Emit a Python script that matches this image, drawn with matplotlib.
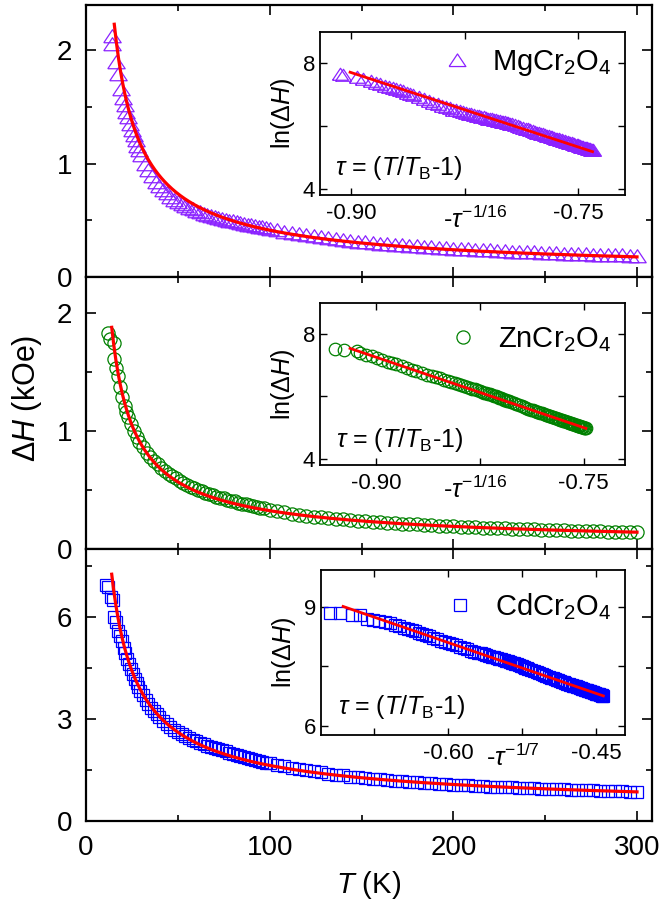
import numpy as np
import matplotlib
matplotlib.use('Agg')
import matplotlib.pyplot as plt
from matplotlib.ticker import MultipleLocator, FormatStrFormatter

plt.rcParams['font.family'] = ['Liberation Sans', 'DejaVu Sans']
plt.rcParams['mathtext.fontset'] = 'custom'
plt.rcParams['mathtext.rm'] = 'Liberation Sans'
plt.rcParams['mathtext.it'] = 'Liberation Sans:italic'
plt.rcParams['mathtext.bf'] = 'Liberation Sans:bold'
plt.rcParams['axes.unicode_minus'] = False

# ---------------- data (T in K, dH in kOe) ----------------
T_high = [100, 104, 108, 112, 116, 120, 124, 128, 132, 136, 140, 144, 148, 152,
          156, 160, 164, 168, 172, 176, 180, 184, 188, 192, 196, 200, 204, 208,
          212, 216, 220, 224, 228, 232, 236, 240, 244, 248, 252, 256, 260, 264,
          268, 272, 276, 280, 284, 288, 292, 296, 300]

mg_T_low = [14.0, 14.3, 16.5, 17.5, 19, 20, 21, 22, 23, 24, 25, 26, 27, 28, 29,
            30, 32, 34, 36, 38, 40, 42, 44, 46, 48,
            50, 52, 54, 56, 58, 60, 62, 64, 66, 68, 70, 72, 74, 76, 78, 80, 82,
            84, 86, 88, 90, 92, 94, 96, 98]
mg_dH_low = [2.13, 2.06, 1.90, 1.79, 1.66, 1.58, 1.52, 1.46, 1.41, 1.35, 1.30,
             1.25, 1.21, 1.16, 1.12, 1.08, 1.00, 0.94, 0.89, 0.84, 0.80, 0.77,
             0.74, 0.71, 0.68,
             0.660, 0.640, 0.623, 0.610, 0.597, 0.583, 0.570, 0.560, 0.550,
             0.540, 0.530, 0.520, 0.510, 0.503, 0.497, 0.490, 0.482, 0.475,
             0.468, 0.460, 0.455, 0.450, 0.445, 0.440, 0.432]
mg_dH_high = [0.425, 0.413, 0.401, 0.389, 0.378, 0.370, 0.360, 0.351, 0.343,
              0.335, 0.327, 0.320, 0.313, 0.307, 0.301, 0.295, 0.289, 0.284,
              0.280, 0.275, 0.270, 0.266, 0.262, 0.258, 0.254, 0.251, 0.247,
              0.244, 0.240, 0.237, 0.234, 0.231, 0.228, 0.224, 0.221, 0.219,
              0.217, 0.214, 0.212, 0.209, 0.207, 0.205, 0.202, 0.200, 0.198,
              0.196, 0.194, 0.192, 0.190, 0.189, 0.187]

zn_T_low = [12.1, 13.2, 15.0, 15.5, 16.5, 17.5, 18.5, 19.5, 21, 22, 23, 24.5,
            26, 27.5, 29, 31, 33, 35, 37, 39, 41, 43, 45, 47, 49,
            51, 53, 55, 57, 59, 61, 63, 65, 67, 69, 71, 73, 75, 77, 79, 81, 83,
            85, 87, 89, 91, 93, 95, 97]
zn_dH_low = [1.83, 1.78, 1.74, 1.61, 1.53, 1.46, 1.37, 1.29, 1.21, 1.16, 1.12,
             1.06, 1.00, 0.95, 0.91, 0.86, 0.81, 0.78, 0.75, 0.72, 0.69, 0.66,
             0.64, 0.62, 0.60,
             0.580, 0.560, 0.543, 0.530, 0.517, 0.503, 0.490, 0.477, 0.465,
             0.455, 0.445, 0.437, 0.430, 0.420, 0.412, 0.405, 0.395, 0.386,
             0.379, 0.371, 0.364, 0.358, 0.353, 0.346]
zn_dH_high = [0.335, 0.323, 0.311, 0.301, 0.293, 0.285, 0.277, 0.270, 0.263,
              0.257, 0.252, 0.246, 0.242, 0.238, 0.233, 0.229, 0.225, 0.221,
              0.217, 0.213, 0.210, 0.207, 0.204, 0.200, 0.197, 0.194, 0.192,
              0.189, 0.186, 0.183, 0.181, 0.179, 0.176, 0.174, 0.172, 0.170,
              0.168, 0.166, 0.164, 0.163, 0.160, 0.158, 0.156, 0.155, 0.154,
              0.152, 0.150, 0.149, 0.147, 0.146, 0.145]

cd_T_low = [11.0, 12.0, 13.5, 14.5, 15.5, 16.5, 17.5, 18.5, 19.5, 20.5, 21.5,
            22.5, 23.5, 24.5, 25.5, 26.5, 27.5, 28.5, 29.5, 31, 32.5, 34, 35.5,
            37, 38.5, 40, 42, 44, 46, 48,
            50, 52, 54, 56, 58, 60, 62, 64, 66, 68, 70, 72, 74, 76, 78, 80, 82,
            84, 86, 88, 90, 92, 94, 96, 98]
cd_dH_low = [6.95, 6.90, 6.60, 6.50, 6.00, 5.85, 5.60, 5.45, 5.30, 5.10, 4.95,
             4.78, 4.62, 4.47, 4.33, 4.18, 4.05, 3.94, 3.84, 3.70, 3.57, 3.45,
             3.34, 3.24, 3.15, 3.06, 2.95, 2.85, 2.76, 2.68,
             2.61, 2.55, 2.49, 2.44, 2.39, 2.35, 2.30, 2.26, 2.22, 2.18, 2.15,
             2.11, 2.08, 2.05, 2.01, 1.98, 1.95, 1.92, 1.89, 1.86, 1.83, 1.80,
             1.78, 1.75, 1.72]
cd_dH_high = [1.70, 1.65, 1.61, 1.57, 1.53, 1.49, 1.46, 1.43, 1.39, 1.36, 1.34,
              1.31, 1.29, 1.27, 1.25, 1.23, 1.21, 1.19, 1.17, 1.16, 1.14, 1.12,
              1.11, 1.10, 1.09, 1.07, 1.06, 1.05, 1.04, 1.03, 1.01, 1.00, 0.99,
              0.99, 0.98, 0.97, 0.96, 0.95, 0.95, 0.94, 0.93, 0.92, 0.91, 0.91,
              0.90, 0.89, 0.88, 0.87, 0.87, 0.86, 0.85]

# fit parameters: ln(dH[Oe]) = A + B * x,  x = -(T/TB - 1)^(-1/n)
fit_TB = [2.43, 2.87, 1.0]
fit_n = [16, 16, 7]
fit_A = [-6.52, -6.273, 2.971]
fit_B = [-15.8, -15.03, -8.54]
fit_Tmin_main = [15.4, 14.0, 14.0]
fit_Tmin_inset = [15.4, 14.0, 12.4]
fit_Tmax = 300.0

names = [r'MgCr$_2$O$_4$', r'ZnCr$_2$O$_4$', r'CdCr$_2$O$_4$']
exp_labels = [r'-$\tau^{-1/16}$', r'-$\tau^{-1/16}$', r'-$\tau^{-1/7}$']

# ---------------- styles ----------------
colors = ['#8B22FF', '#008000', '#0000FF']
tri = [(-1.0, -0.72), (1.0, -0.72), (0.0, 0.78), (-1.0, -0.72)]
markers = [tri, 'o', 's']
msizes_main = [12.5, 9.5, 8.5]
msizes_ins = [11.5, 9.0, 8.2]
fit_color = '#FF0000'

main_ylim = [(0, 2.4), (0, 2.3), (0, 8.0)]
main_ymaj = [1, 1, 3]
ins_xlim = [(-0.9205, -0.719), (-0.9405, -0.720), (-0.729, -0.421)]
ins_ylim = [(3.8, 9.0), (3.8, 9.0), (5.77, 9.92)]
ins_ymaj = [4, 4, 3]
ins_xlabel_pos = [(0.508, -0.205), (0.51, -0.205), (0.632, -0.185)]
tau_pos = [(0.048, 0.122), (0.054, 0.113), (0.058, 0.13)]
leg_y = [0.806, 0.775, 0.778]

W, H = 661.0, 902.0
fig = plt.figure(figsize=(6.61, 9.02), dpi=100)


def add_ax(l, t, r, b):
    return fig.add_axes([l / W, 1 - b / H, (r - l) / W, (b - t) / H])


main_boxes = [(86, 5, 651.7, 277), (86, 277, 651.7, 549.3), (86, 549.3, 651.7, 821)]
ins_boxes = [(320, 31.7, 625, 195), (320, 302.7, 625, 465), (320.7, 570, 625, 735)]

datasets = [(mg_T_low + T_high, mg_dH_low + mg_dH_high),
            (zn_T_low + T_high, zn_dH_low + zn_dH_high),
            (cd_T_low + T_high, cd_dH_low + cd_dH_high)]

for i in range(3):
    T = np.array(datasets[i][0], dtype=float)
    dH = np.array(datasets[i][1], dtype=float)
    TB, n, A, B = fit_TB[i], fit_n[i], fit_A[i], fit_B[i]

    ax = add_ax(*main_boxes[i])
    ax.plot(T, dH, linestyle='none', marker=markers[i], ms=msizes_main[i],
            mfc='none', mec=colors[i], mew=0.9, zorder=2)
    Tf = np.linspace(fit_Tmin_main[i], fit_Tmax, 500)
    xf = -(Tf / TB - 1) ** (-1.0 / n)
    ax.plot(Tf, np.exp(A + B * xf) / 1000.0, color=fit_color, lw=2.3, zorder=3)
    ax.set_xlim(0, 308)
    ax.set_ylim(*main_ylim[i])
    ax.xaxis.set_major_locator(MultipleLocator(100))
    ax.xaxis.set_minor_locator(MultipleLocator(50))
    ax.yaxis.set_major_locator(MultipleLocator(main_ymaj[i]))
    ax.yaxis.set_minor_locator(MultipleLocator(main_ymaj[i] / 2))
    ax.tick_params(which='both', direction='in', top=True, right=True,
                   width=1.2, labelsize=20, pad=10)
    ax.tick_params(which='major', length=7.5)
    ax.tick_params(which='minor', length=4)
    for s in ax.spines.values():
        s.set_linewidth(1.6)
    if i < 2:
        ax.tick_params(labelbottom=False)
    else:
        ax.set_xlabel(r'$\mathit{T}$ (K)', fontsize=21, labelpad=6)

    # inset
    ia = add_ax(*ins_boxes[i])
    xi = -(T / TB - 1) ** (-1.0 / n)
    ia.plot(xi, np.log(dH * 1000.0), linestyle='none', marker=markers[i],
            ms=msizes_ins[i], mfc='none', mec=colors[i], mew=0.9, zorder=2,
            label=names[i])
    xl = -(np.array([fit_Tmin_inset[i], fit_Tmax]) / TB - 1) ** (-1.0 / n)
    ia.plot(xl, A + B * xl, color=fit_color, lw=2.0, zorder=3)
    ia.set_xlim(*ins_xlim[i])
    ia.set_ylim(*ins_ylim[i])
    ia.xaxis.set_major_locator(MultipleLocator(0.15))
    ia.xaxis.set_minor_locator(MultipleLocator(0.075))
    ia.yaxis.set_major_locator(MultipleLocator(ins_ymaj[i]))
    ia.yaxis.set_minor_locator(MultipleLocator(ins_ymaj[i] / 2))
    ia.xaxis.set_major_formatter(FormatStrFormatter('%.2f'))
    ia.yaxis.set_major_formatter(FormatStrFormatter('%d'))
    ia.tick_params(which='both', direction='in', top=True, right=True,
                   width=1.0, length=5, labelsize=16)
    ia.tick_params(axis='x', pad=6)
    ia.tick_params(axis='y', pad=3.5)
    for s in ia.spines.values():
        s.set_linewidth(1.3)
    ia.set_ylabel(r'ln($\Delta\mathit{H}$)', fontsize=18, labelpad=4)
    ia.text(ins_xlabel_pos[i][0], ins_xlabel_pos[i][1], exp_labels[i],
            transform=ia.transAxes, ha='center', va='baseline', fontsize=18)
    ia.text(tau_pos[i][0], tau_pos[i][1],
            r'$\tau$ = ($\mathit{T}$/$\mathit{T}_{\mathrm{B}}$-1)',
            transform=ia.transAxes, ha='left', va='baseline', fontsize=18)
    ia.legend(loc='center right', bbox_to_anchor=(0.955, leg_y[i]), frameon=False,
              fontsize=21, handlelength=1.0, handletextpad=0.7, borderpad=0,
              borderaxespad=0, markerscale=1.05)

fig.text(26.7 / W, 1 - 398.5 / H, r'$\Delta\mathit{H}$ (kOe)', rotation=90,
         ha='center', va='center', fontsize=22)

fig.savefig('out.png', dpi=100)
